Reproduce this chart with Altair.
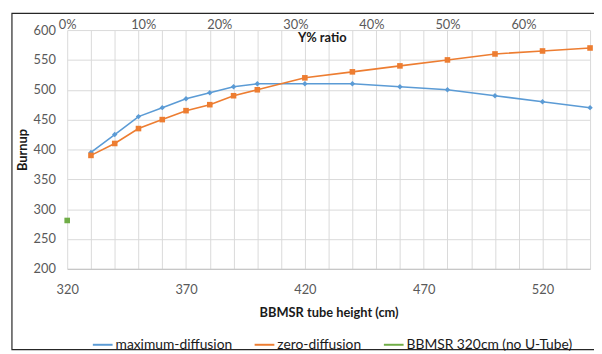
import altair as alt
import pandas as pd

# ---- data ----
heights = [330, 340, 350, 360, 370, 380, 390, 400, 420, 440, 460, 480, 500, 520, 540]
max_diffusion = [395, 425, 455, 470, 485, 495, 505, 510, 510, 510, 505, 500, 490, 480, 470]
zero_diffusion = [390, 410, 435, 450, 465, 475, 490, 500, 520, 530, 540, 550, 560, 565, 570]
ref_height = [320]
ref_burnup = [281]
series_names = ["maximum-diffusion", "zero-diffusion", "BBMSR 320cm (no U-Tube)"]
series_colors = ["#5B9BD5", "#ED7D31", "#70AD47"]
ratio_ticks = [0.0, 0.1, 0.2, 0.3, 0.4, 0.5, 0.6]
x_grid = list(range(320, 541, 10))
y_ticks = list(range(200, 601, 50))

rows = []
for h, v in zip(heights, max_diffusion):
    rows.append({"height": h, "burnup": v, "series": series_names[0]})
for h, v in zip(heights, zero_diffusion):
    rows.append({"height": h, "burnup": v, "series": series_names[1]})
for h, v in zip(ref_height, ref_burnup):
    rows.append({"height": h, "burnup": v, "series": series_names[2]})
df = pd.DataFrame(rows)

FONT = "Lato"

x_enc = alt.X(
    "height:Q",
    scale=alt.Scale(domain=[320, 540], nice=False, zero=False),
    axis=alt.Axis(
        values=x_grid,
        labelExpr="(datum.value - 320) % 50 == 0 ? datum.label : ''",
        title="BBMSR tube height (cm)",
        grid=True, gridColor="#D9D9D9", ticks=False,
        domain=True, domainColor="#BFBFBF",
        labelPadding=15, titlePadding=10, labelFlush=False,
    ),
)
y_enc = alt.Y(
    "burnup:Q",
    scale=alt.Scale(domain=[200, 600], nice=False, zero=False),
    axis=alt.Axis(
        values=y_ticks, title="Burnup",
        grid=True, gridColor="#D9D9D9", ticks=False, domain=False,
        labelPadding=12, titlePadding=4,
    ),
)
legend = alt.Legend(
    title=None, orient="none", direction="horizontal",
    legendX=25, legendY=308, symbolType="stroke", symbolSize=400,
    symbolStrokeWidth=2, columnPadding=18, labelOffset=2, labelLimit=300,
)
color_enc = alt.Color(
    "series:N",
    scale=alt.Scale(domain=series_names, range=series_colors),
    legend=legend, sort=series_names,
)

lines = alt.Chart(df).mark_line(strokeWidth=1.6).encode(
    x=x_enc, y=y_enc, color=color_enc, detail="series:N"
)
diamonds = alt.Chart(df).transform_filter(
    alt.datum.series == series_names[0]
).mark_point(filled=True, opacity=1, size=30, shape="diamond").encode(
    x=x_enc, y=y_enc, color=color_enc,
)
squares = alt.Chart(df).transform_filter(
    alt.datum.series != series_names[0]
).mark_point(filled=True, opacity=1, size=32, shape="square").encode(
    x=x_enc, y=y_enc, color=color_enc,
)
main = alt.layer(lines, diamonds, squares)

top = alt.Chart(pd.DataFrame({"ratio": ratio_ticks})).mark_point(opacity=0).encode(
    x=alt.X(
        "ratio:Q",
        scale=alt.Scale(domain=[0, 220 / 320], nice=False, zero=False),
        axis=alt.Axis(
            orient="top", values=ratio_ticks, format=".0%", title="Y% ratio",
            grid=False, ticks=False, domain=False, labelPadding=-1, labelFlush=False,
            titleX=258, titleY=15, titleAlign="center",
        ),
    ),
    y=alt.value(0),
)

border = alt.Chart(pd.DataFrame({"a": [0]})).mark_rect(
    filled=False, stroke="#262626", strokeWidth=1.2
).encode(
    x=alt.value(-56), x2=alt.value(560), y=alt.value(-17), y2=alt.value(324)
)

chart = alt.layer(main, top, border).resolve_scale(x="independent").properties(
    width=530, height=242,
    autosize=alt.AutoSizeParams(type="none"),
    padding={"left": 60, "top": 20, "right": 4, "bottom": 86},
    background="white",
).configure_view(stroke=None).configure_axis(
    labelFont=FONT, titleFont=FONT, labelFontSize=13, titleFontSize=13,
    labelColor="#595959", titleColor="#1a1a1a", titleFontWeight="bold",
).configure_legend(
    labelFont=FONT, labelFontSize=14, labelColor="#1a1a1a",
    symbolType="stroke",
)

chart.save("out.html", embed_options={"renderer": "svg", "actions": False})
